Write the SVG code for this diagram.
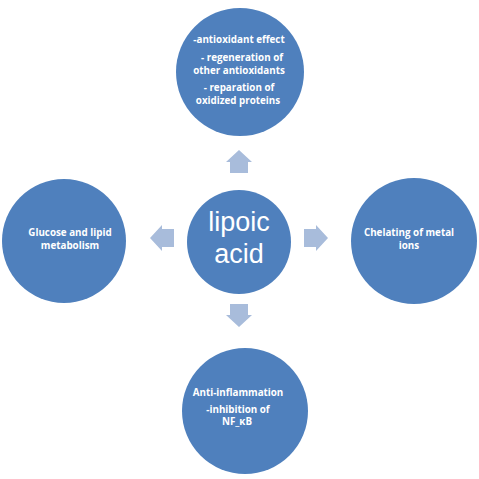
<svg xmlns="http://www.w3.org/2000/svg" width="479" height="479" viewBox="0 0 479 479">
<style>
.c{fill:#4f80bd}
.a{fill:#a8bcdb}
.t{font-family:"Open Sans","Liberation Sans",sans-serif;font-weight:bold;font-size:9.8px;fill:#fff;text-anchor:middle}
.big{font-family:"Liberation Sans",Arial,sans-serif;font-size:27px;fill:#fff;text-anchor:middle}
</style>
<rect width="479" height="479" fill="#fff"/>
<g id="connectors">
<polygon class="a" points="239,150 252,162 248,162 248,173 230,173 230,162 226,162"/>
<polygon class="a" points="239,327 252,315 248,315 248,304 230,304 230,315 226,315"/>
<polygon class="a" points="150,238 162,225 162,229 174,229 174,247 162,247 162,251"/>
<polygon class="a" points="328,238 316,225 316,229 304,229 304,247 316,247 316,251"/>
</g>
<g id="center">
<circle class="c" cx="239" cy="242" r="52"/>
<text class="big" x="239" y="231">lipoic</text>
<text class="big" x="239" y="263">acid</text>
</g>
<g id="top">
<circle class="c" cx="240" cy="72" r="64"/>
<text class="t" x="239" y="43">-antioxidant effect</text>
<text class="t" x="242" y="61">- regeneration of</text>
<text class="t" x="239" y="74">other antioxidants</text>
<text class="t" x="239" y="91">- reparation of</text>
<text class="t" x="238" y="104">oxidized proteins</text>
</g>
<g id="left">
<circle class="c" cx="64" cy="241" r="62"/>
<text class="t" x="70" y="236">Glucose and lipid</text>
<text class="t" x="70" y="249">metabolism</text>
</g>
<g id="right">
<circle class="c" cx="414" cy="241" r="63"/>
<text class="t" x="409" y="236">Chelating of metal</text>
<text class="t" x="409" y="249">ions</text>
</g>
<g id="bottom">
<circle class="c" cx="245" cy="411" r="63"/>
<text class="t" x="238" y="396">Anti-inflammation</text>
<text class="t" x="238" y="413">-inhibition of</text>
<text class="t" x="237" y="425">NF_κB</text>
</g>
</svg>
